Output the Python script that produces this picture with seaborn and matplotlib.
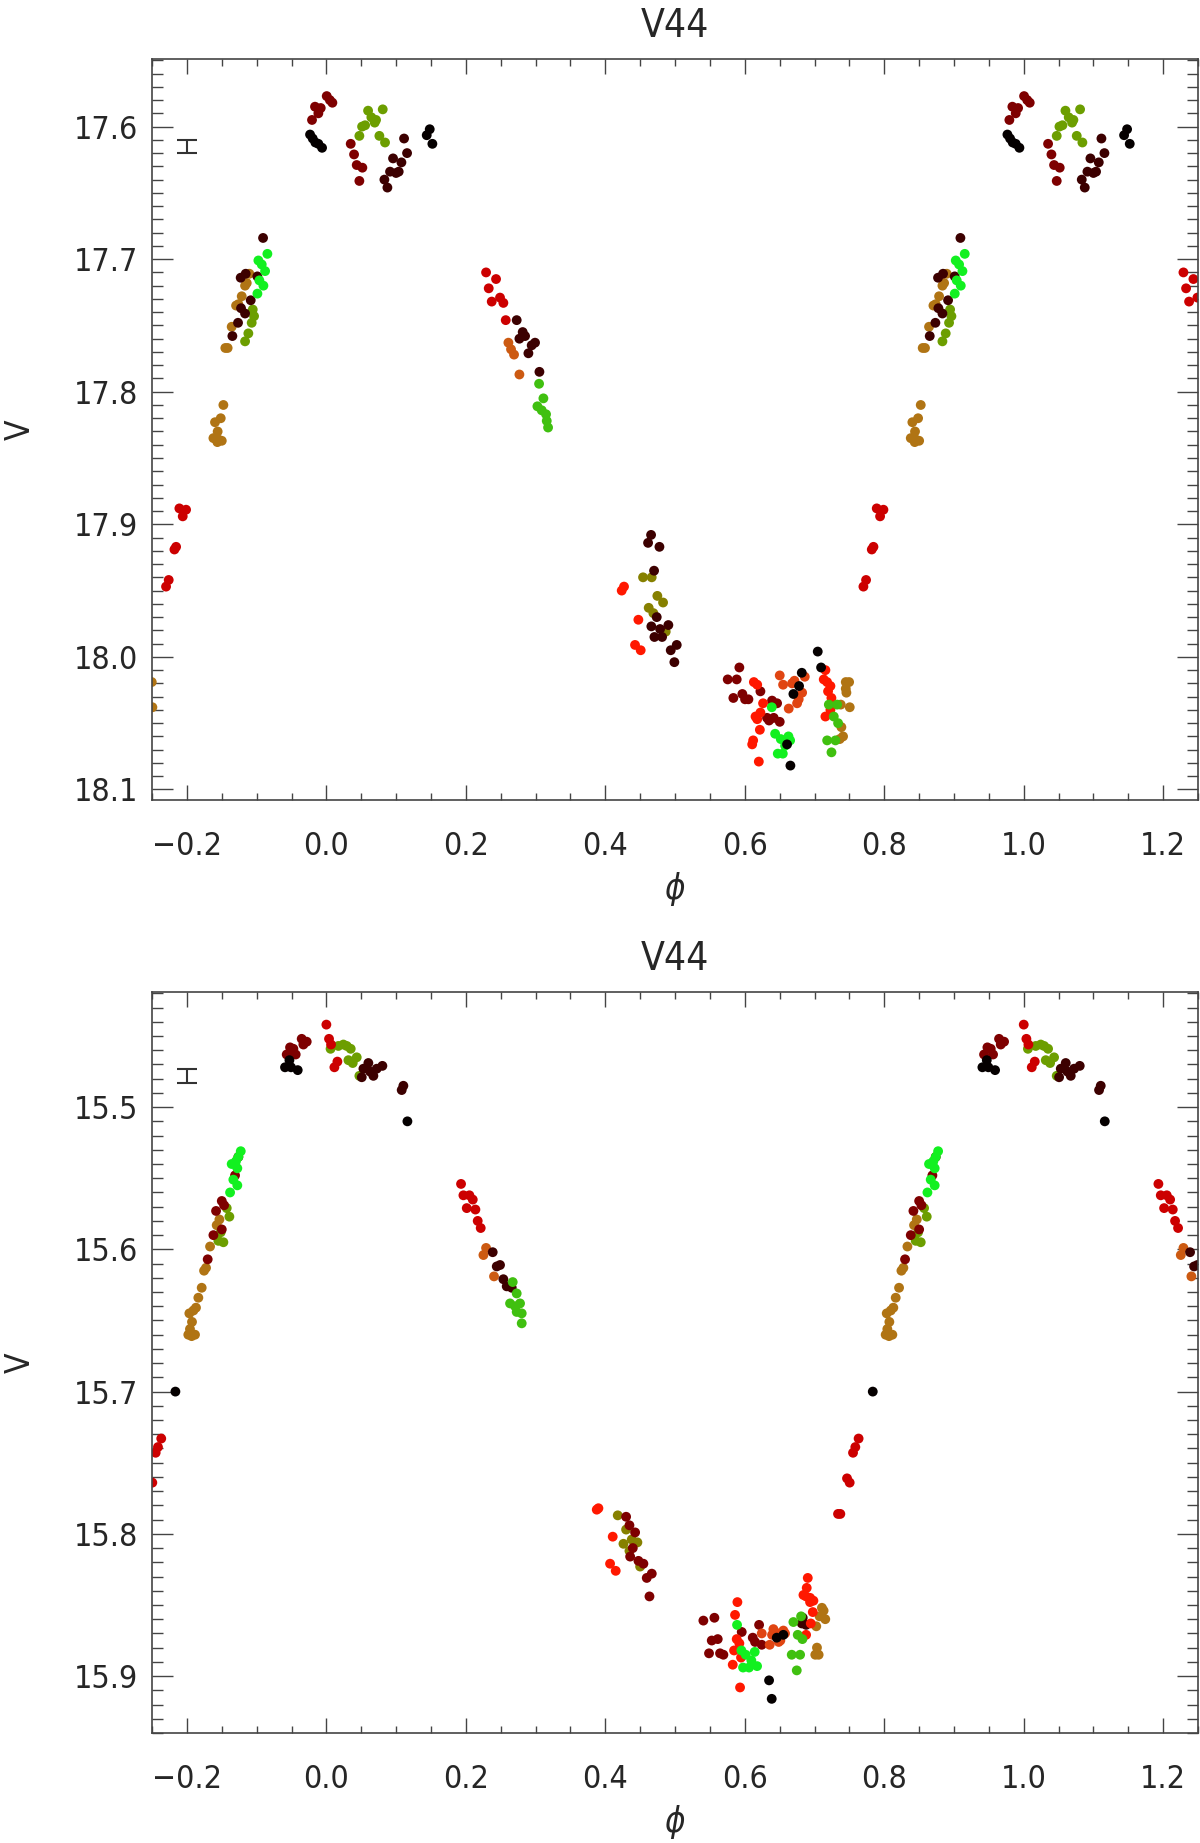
import numpy as np
import pandas as pd
import matplotlib
matplotlib.use("Agg")
import matplotlib.pyplot as plt
from matplotlib.ticker import MultipleLocator
import seaborn as sns

# colour for each observing night
night_colors = {
    "black": "#050000",
    "brown": "#3c0000",
    "maroon": "#7e0000",
    "red": "#cc0000",
    "brightred": "#ff1800",
    "orangered": "#e04512",
    "orange": "#cc5a12",
    "ochre": "#b07414",
    "olive": "#868000",
    "olivegreen": "#6c9e00",
    "green": "#40c010",
    "lime": "#12f020",
}

# ---- top panel (phase, V) ----
top_black_ph = [-0.0234, -0.0196, -0.0158, -0.0115, -0.0062, 0.1439, 0.1482, 0.152,
                0.6817, 0.6778, 0.6697, 0.7046, 0.6606, 0.6654, 0.7094]
top_black_v = [17.606, 17.609, 17.612, 17.613, 17.616, 17.6065, 17.602, 17.613,
               18.012, 18.022, 18.028, 17.996, 18.066, 18.082, 18.008]

top_brown_ph = [0.1114, 0.1157, 0.0956, 0.1076, 0.0913, 0.0999, 0.1037, 0.0832, 0.0875,
                -0.0908, -0.1229, -0.1157, -0.099, -0.1085, -0.1224, -0.1166, -0.1267, -0.1348,
                0.2729, 0.2815, 0.2849, 0.2768, 0.2992, 0.2944, 0.2897, 0.3055,
                0.4656, 0.4613, 0.4776, 0.4699, 0.4737, 0.466, 0.4785, 0.4904, 0.4704,
                0.4814, 0.4938, 0.5024, 0.499]
top_brown_v = [17.609, 17.620, 17.624, 17.627, 17.634, 17.635, 17.634, 17.640, 17.646,
               17.684, 17.714, 17.711, 17.713, 17.731, 17.737, 17.741, 17.748, 17.758,
               17.746, 17.755, 17.758, 17.760, 17.763, 17.765, 17.771, 17.785,
               17.908, 17.914, 17.917, 17.935, 17.970, 17.977, 17.979, 17.976, 17.985,
               17.985, 17.995, 17.991, 18.004]

top_maroon_ph = [0.0005, 0.005, 0.0086, -0.0163, -0.0081, -0.0115, -0.0206,
                 0.0349, 0.0397, 0.0435, 0.0516, 0.0473,
                 0.5922, 0.5755, 0.5884, 0.5965, 0.5836, 0.6004, 0.6052,
                 0.6224, 0.6391, 0.6463, 0.6319, 0.6415, 0.6501, 0.6348]
top_maroon_v = [17.577, 17.580, 17.582, 17.585, 17.586, 17.590, 17.595,
                17.613, 17.621, 17.629, 17.631, 17.641,
                18.008, 18.017, 18.017, 18.028, 18.031, 18.032, 18.032,
                18.026, 18.033, 18.035, 18.046, 18.046, 18.049, 18.048]

top_red_ph = [0.229, 0.2433, 0.2328, 0.2371, 0.249, 0.2538, 0.2572,
              0.7892, 0.7988, 0.794, 0.7845, 0.7821, 0.7739, 0.7701]
top_red_v = [17.710, 17.715, 17.722, 17.732, 17.729, 17.733, 17.746,
             17.888, 17.889, 17.894, 17.917, 17.919, 17.942, 17.947]

top_brightred_ph = [0.4235, 0.4268, 0.4474, 0.4426, 0.4507,
                    0.613, 0.6178, 0.6262, 0.6224, 0.6178, 0.6154, 0.6216, 0.612, 0.6106,
                    0.6201, 0.7156, 0.7132, 0.718, 0.7228, 0.7194, 0.7242, 0.7228, 0.7156]
top_brightred_v = [17.950, 17.947, 17.972, 17.991, 17.995,
                   18.019, 18.021, 18.035, 18.042, 18.047, 18.045, 18.055, 18.063, 18.066,
                   18.079, 18.010, 18.017, 18.019, 18.022, 18.026, 18.031, 18.040, 18.045]

top_orangered_ph = [0.6501, 0.6549, 0.6678, 0.6712, 0.686, 0.6822, 0.663, 0.675, 0.6773]
top_orangered_v = [18.014, 18.021, 18.020, 18.018, 18.015, 18.027, 18.039, 18.035, 18.032]

top_orange_ph = [0.261, 0.2648, 0.2691, 0.2768]
top_orange_v = [17.763, 17.768, 17.772, 17.787]

top_ochre_ph = [-0.1104, -0.1142, -0.1166, -0.1214, -0.1262, -0.1295, -0.1358, -0.1449, -0.1416,
                -0.1477, -0.1515, -0.1597, -0.1559, -0.162, -0.1549, -0.15, -0.1563,
                0.7448, 0.7496, 0.7448, 0.7457, 0.7376, 0.7505, 0.7385, 0.7409, 0.7361]
top_ochre_v = [17.711, 17.718, 17.720, 17.728, 17.734, 17.735, 17.751, 17.767, 17.767,
               17.810, 17.820, 17.823, 17.830, 17.835, 17.836, 17.837, 17.838,
               18.019, 18.019, 18.024, 18.027, 18.036, 18.038, 18.053, 18.060, 18.062]

top_olive_ph = [0.4541, 0.4665, 0.4746, 0.4828, 0.4622, 0.4689, 0.4866]
top_olive_v = [17.940, 17.940, 17.954, 17.959, 17.963, 17.967, 17.981]

top_olivegreen_ph = [0.0598, 0.0808, 0.0645, 0.0712, 0.0693, 0.0555, 0.0512, 0.0473, 0.076, 0.0841,
                     -0.1056, -0.1037, -0.1071, -0.1119, -0.1166]
top_olivegreen_v = [17.588, 17.587, 17.593, 17.595, 17.597, 17.599, 17.600, 17.607, 17.607, 17.612,
                    17.738, 17.743, 17.748, 17.756, 17.762]

top_green_ph = [0.305, 0.3112, 0.3026, 0.3088, 0.315, 0.316, 0.3179,
                0.7205, 0.7324, 0.7276, 0.7338, 0.7181, 0.73, 0.7243]
top_green_v = [17.794, 17.805, 17.811, 17.814, 17.817, 17.822, 17.827,
               18.036, 18.036, 18.045, 18.050, 18.063, 18.063, 18.072]

top_lime_ph = [-0.0846, -0.0975, -0.0927, -0.0879, -0.0961, -0.0903, -0.0989,
               0.6387, 0.6435, 0.6516, 0.6626, 0.665, 0.6578, 0.6473, 0.6545]
top_lime_v = [17.696, 17.701, 17.704, 17.709, 17.716, 17.720, 17.726,
              18.038, 18.058, 18.062, 18.060, 18.063, 18.067, 18.073, 18.073]

# ---- bottom panel (phase, V) ----
bot_black_ph = [-0.053, -0.0593, -0.0507, -0.0411, 0.1162, 0.7835,
                0.6458, 0.6553, 0.6348, 0.6386]
bot_black_v = [15.467, 15.472, 15.472, 15.474, 15.510, 15.700,
               15.873, 15.871, 15.903, 15.916]

bot_brown_ph = [0.0602, 0.0531, 0.0507, 0.0674, 0.0722, 0.0803, 0.0626, 0.1104, 0.108,
                0.2385, 0.2443, 0.249, 0.2538, 0.2586, 0.2658,
                0.6817, 0.6879, 0.6831]
bot_brown_v = [15.469, 15.473, 15.479, 15.478, 15.473, 15.471, 15.475, 15.485, 15.488,
               15.602, 15.612, 15.611, 15.621, 15.626, 15.627,
               15.863, 15.864, 15.859]

bot_maroon_ph = [-0.0354, -0.0282, -0.033, -0.0521, -0.0473, -0.0569, -0.044,
                 -0.1262, -0.131, -0.15, -0.1582, -0.1467, -0.15, -0.162, -0.1702,
                 0.4298, 0.4346, 0.4427, 0.4394, 0.4356, 0.4475, 0.4546, 0.4594, 0.4666, 0.4633,
                 0.5406, 0.5564, 0.5526, 0.5612, 0.5487, 0.5645, 0.5693, 0.5956, 0.6205,
                 0.6114, 0.6147, 0.6243]
bot_maroon_v = [15.452, 15.454, 15.456, 15.458, 15.459, 15.463, 15.463,
                15.535, 15.548, 15.566, 15.573, 15.569, 15.586, 15.590, 15.607,
                15.788, 15.794, 15.799, 15.810, 15.816, 15.819, 15.821, 15.831, 15.828, 15.844,
                15.861, 15.859, 15.875, 15.874, 15.884, 15.884, 15.885, 15.869, 15.864,
                15.873, 15.876, 15.878]

bot_red_ph = [0.0, 0.0038, 0.0067, 0.0158, 0.0115,
              0.1931, 0.1965, 0.2051, 0.2099, 0.2013, 0.2137, 0.217, 0.2213,
              0.7632, 0.7585, 0.7552, 0.7466, 0.7504, 0.737, 0.7337]
bot_red_v = [15.442, 15.452, 15.456, 15.468, 15.472,
             15.554, 15.562, 15.562, 15.565, 15.571, 15.572, 15.580, 15.585,
             15.733, 15.739, 15.743, 15.761, 15.764, 15.786, 15.786]

bot_brightred_ph = [0.3877, 0.3901, 0.4106, 0.4068, 0.4149,
                    0.5894, 0.586, 0.5884, 0.5922, 0.5846, 0.5946, 0.5827, 0.5932,
                    0.6903, 0.6888, 0.6841, 0.6879, 0.6936, 0.6984, 0.6936, 0.6975, 0.6946, 0.6879]
bot_brightred_v = [15.783, 15.782, 15.802, 15.821, 15.826,
                   15.848, 15.857, 15.874, 15.877, 15.882, 15.887, 15.892, 15.908,
                   15.831, 15.838, 15.843, 15.844, 15.845, 15.847, 15.848, 15.855, 15.863, 15.871]

bot_orangered_ph = [0.6243, 0.641, 0.6434, 0.6553, 0.6577, 0.6357, 0.6486, 0.651, 0.6391]
bot_orangered_v = [15.870, 15.867, 15.869, 15.868, 15.870, 15.878, 15.876, 15.875, 15.871]

bot_orange_ph = [0.229, 0.2252, 0.2404]
bot_orange_v = [15.599, 15.604, 15.619]

bot_ochre_ph = [-0.1534, -0.1573, -0.1668, -0.1726, -0.1754, -0.1788, -0.1836, -0.187,
                -0.1907, -0.1965, -0.1927, -0.1956, -0.198, -0.1932, -0.1884,
                0.7106, 0.713, 0.7073, 0.7154, 0.7025, 0.7035, 0.7011, 0.7059]
bot_ochre_v = [15.579, 15.583, 15.598, 15.613, 15.615, 15.627, 15.634, 15.641,
               15.643, 15.645, 15.651, 15.656, 15.660, 15.661, 15.660,
               15.852, 15.854, 15.858, 15.860, 15.865, 15.880, 15.885, 15.885]

bot_olive_ph = [0.4178, 0.4298, 0.426, 0.4379, 0.446, 0.4346, 0.4499]
bot_olive_v = [15.787, 15.797, 15.807, 15.804, 15.806, 15.812, 15.823]

bot_olivegreen_ph = [0.006, 0.0172, 0.0244, 0.0292, 0.0349, 0.0316, 0.0378, 0.0435, 0.0473,
                     -0.1429, -0.1391, -0.1515, -0.1549, -0.1477]
bot_olivegreen_v = [15.459, 15.457, 15.456, 15.457, 15.459, 15.467, 15.469, 15.465, 15.478,
                    15.571, 15.577, 15.588, 15.594, 15.595]

bot_green_ph = [0.2672, 0.2729, 0.2634, 0.2706, 0.2777, 0.2729, 0.2801, 0.2801,
                0.6697, 0.6807, 0.6759, 0.6826, 0.6673, 0.6793, 0.6745]
bot_green_v = [15.623, 15.631, 15.638, 15.640, 15.638, 15.644, 15.645, 15.652,
               15.862, 15.858, 15.871, 15.874, 15.885, 15.885, 15.896]

bot_lime_ph = [-0.1228, -0.1262, -0.1296, -0.1358, -0.1277, -0.1334, -0.131, -0.1277, -0.1381,
               0.5889, 0.5951, 0.6013, 0.6142, 0.6094, 0.5975, 0.6061, 0.6176]
bot_lime_v = [15.531, 15.535, 15.538, 15.540, 15.543, 15.551, 15.54, 15.555, 15.560,
              15.864, 15.882, 15.885, 15.883, 15.889, 15.894, 15.894, 15.893]

night_order = ["ochre", "olivegreen", "olive", "orange", "red", "maroon", "brown",
               "orangered", "brightred", "green", "lime", "black"]

top_groups = {
    "black": (top_black_ph, top_black_v), "brown": (top_brown_ph, top_brown_v),
    "maroon": (top_maroon_ph, top_maroon_v), "red": (top_red_ph, top_red_v),
    "brightred": (top_brightred_ph, top_brightred_v),
    "orangered": (top_orangered_ph, top_orangered_v), "orange": (top_orange_ph, top_orange_v),
    "ochre": (top_ochre_ph, top_ochre_v), "olive": (top_olive_ph, top_olive_v),
    "olivegreen": (top_olivegreen_ph, top_olivegreen_v), "green": (top_green_ph, top_green_v),
    "lime": (top_lime_ph, top_lime_v),
}
bot_groups = {
    "black": (bot_black_ph, bot_black_v), "brown": (bot_brown_ph, bot_brown_v),
    "maroon": (bot_maroon_ph, bot_maroon_v), "red": (bot_red_ph, bot_red_v),
    "brightred": (bot_brightred_ph, bot_brightred_v),
    "orangered": (bot_orangered_ph, bot_orangered_v), "orange": (bot_orange_ph, bot_orange_v),
    "ochre": (bot_ochre_ph, bot_ochre_v), "olive": (bot_olive_ph, bot_olive_v),
    "olivegreen": (bot_olivegreen_ph, bot_olivegreen_v), "green": (bot_green_ph, bot_green_v),
    "lime": (bot_lime_ph, bot_lime_v),
}

XLIM = (-0.25, 1.25)


def folded_frame(groups):
    # repeat each point one cycle either side, keep what falls in the window
    rows = []
    for night in night_order:
        ph, v = groups[night]
        for p, m in zip(ph, v):
            for k in (-1, 0, 1):
                if XLIM[0] - 0.003 <= p + k <= XLIM[1] + 0.003:
                    rows.append((p + k, m, night))
    return pd.DataFrame(rows, columns=["phase", "V", "night"])


sns.set_style("white")
plt.rcParams["font.family"] = ["DejaVu Sans"]
plt.rcParams["font.stretch"] = "condensed"
plt.rcParams["mathtext.fontset"] = "dejavusans"

fig = plt.figure(figsize=(12, 18.43), dpi=100)
ax_top = fig.add_axes([0.1267, 0.5659, 0.8717, 0.4021])
ax_bot = fig.add_axes([0.1267, 0.0597, 0.8717, 0.4021])

panels = [
    (ax_top, top_groups, (18.108, 17.549), 17.615),
    (ax_bot, bot_groups, (15.940, 15.419), 15.478),
]

for ax, groups, ylim, err_y in panels:
    df = folded_frame(groups)
    sns.scatterplot(data=df, x="phase", y="V", hue="night", palette=night_colors,
                    s=50, linewidth=0, alpha=1, legend=False, ax=ax)
    ax.errorbar([-0.2], [err_y], yerr=[0.005], fmt="none", ecolor="#333333",
                elinewidth=1.5, capsize=7, capthick=1.5)
    ax.set_xlim(*XLIM)
    ax.set_ylim(*ylim)
    ax.xaxis.set_major_locator(MultipleLocator(0.2))
    ax.xaxis.set_minor_locator(MultipleLocator(0.05))
    ax.yaxis.set_major_locator(MultipleLocator(0.1))
    ax.yaxis.set_minor_locator(MultipleLocator(0.01))
    ax.xaxis.set_major_formatter(plt.FuncFormatter(lambda x, _: f"{x:.1f}".replace("-", "\u2212")))
    ax.yaxis.set_major_formatter(plt.FuncFormatter(lambda y, _: f"{y:.1f}"))
    ax.tick_params(axis="x", which="major", direction="in", length=11, width=1,
                   top=True, bottom=True, color="#444444", labelsize=23, pad=22)
    ax.tick_params(axis="x", which="minor", direction="in", length=5, width=1,
                   top=True, bottom=True, color="#444444")
    ax.tick_params(axis="y", which="major", direction="in", length=15, width=1,
                   left=True, right=True, color="#444444", labelsize=23, pad=10)
    ax.tick_params(axis="y", which="minor", direction="in", length=8, width=1,
                   left=True, right=True, color="#444444")
    for sp in ax.spines.values():
        sp.set_color("#444444")
        sp.set_linewidth(1.2)
    ax.set_title("V44", fontsize=28, pad=16)
    ax.set_xlabel(r"$\phi$", fontsize=25)
    ax.xaxis.set_label_coords(0.5, -0.095)
    ax.set_ylabel("V", fontsize=24)
    ax.yaxis.set_label_coords(-0.11, 0.5)

fig.savefig("out.png", dpi=100)
